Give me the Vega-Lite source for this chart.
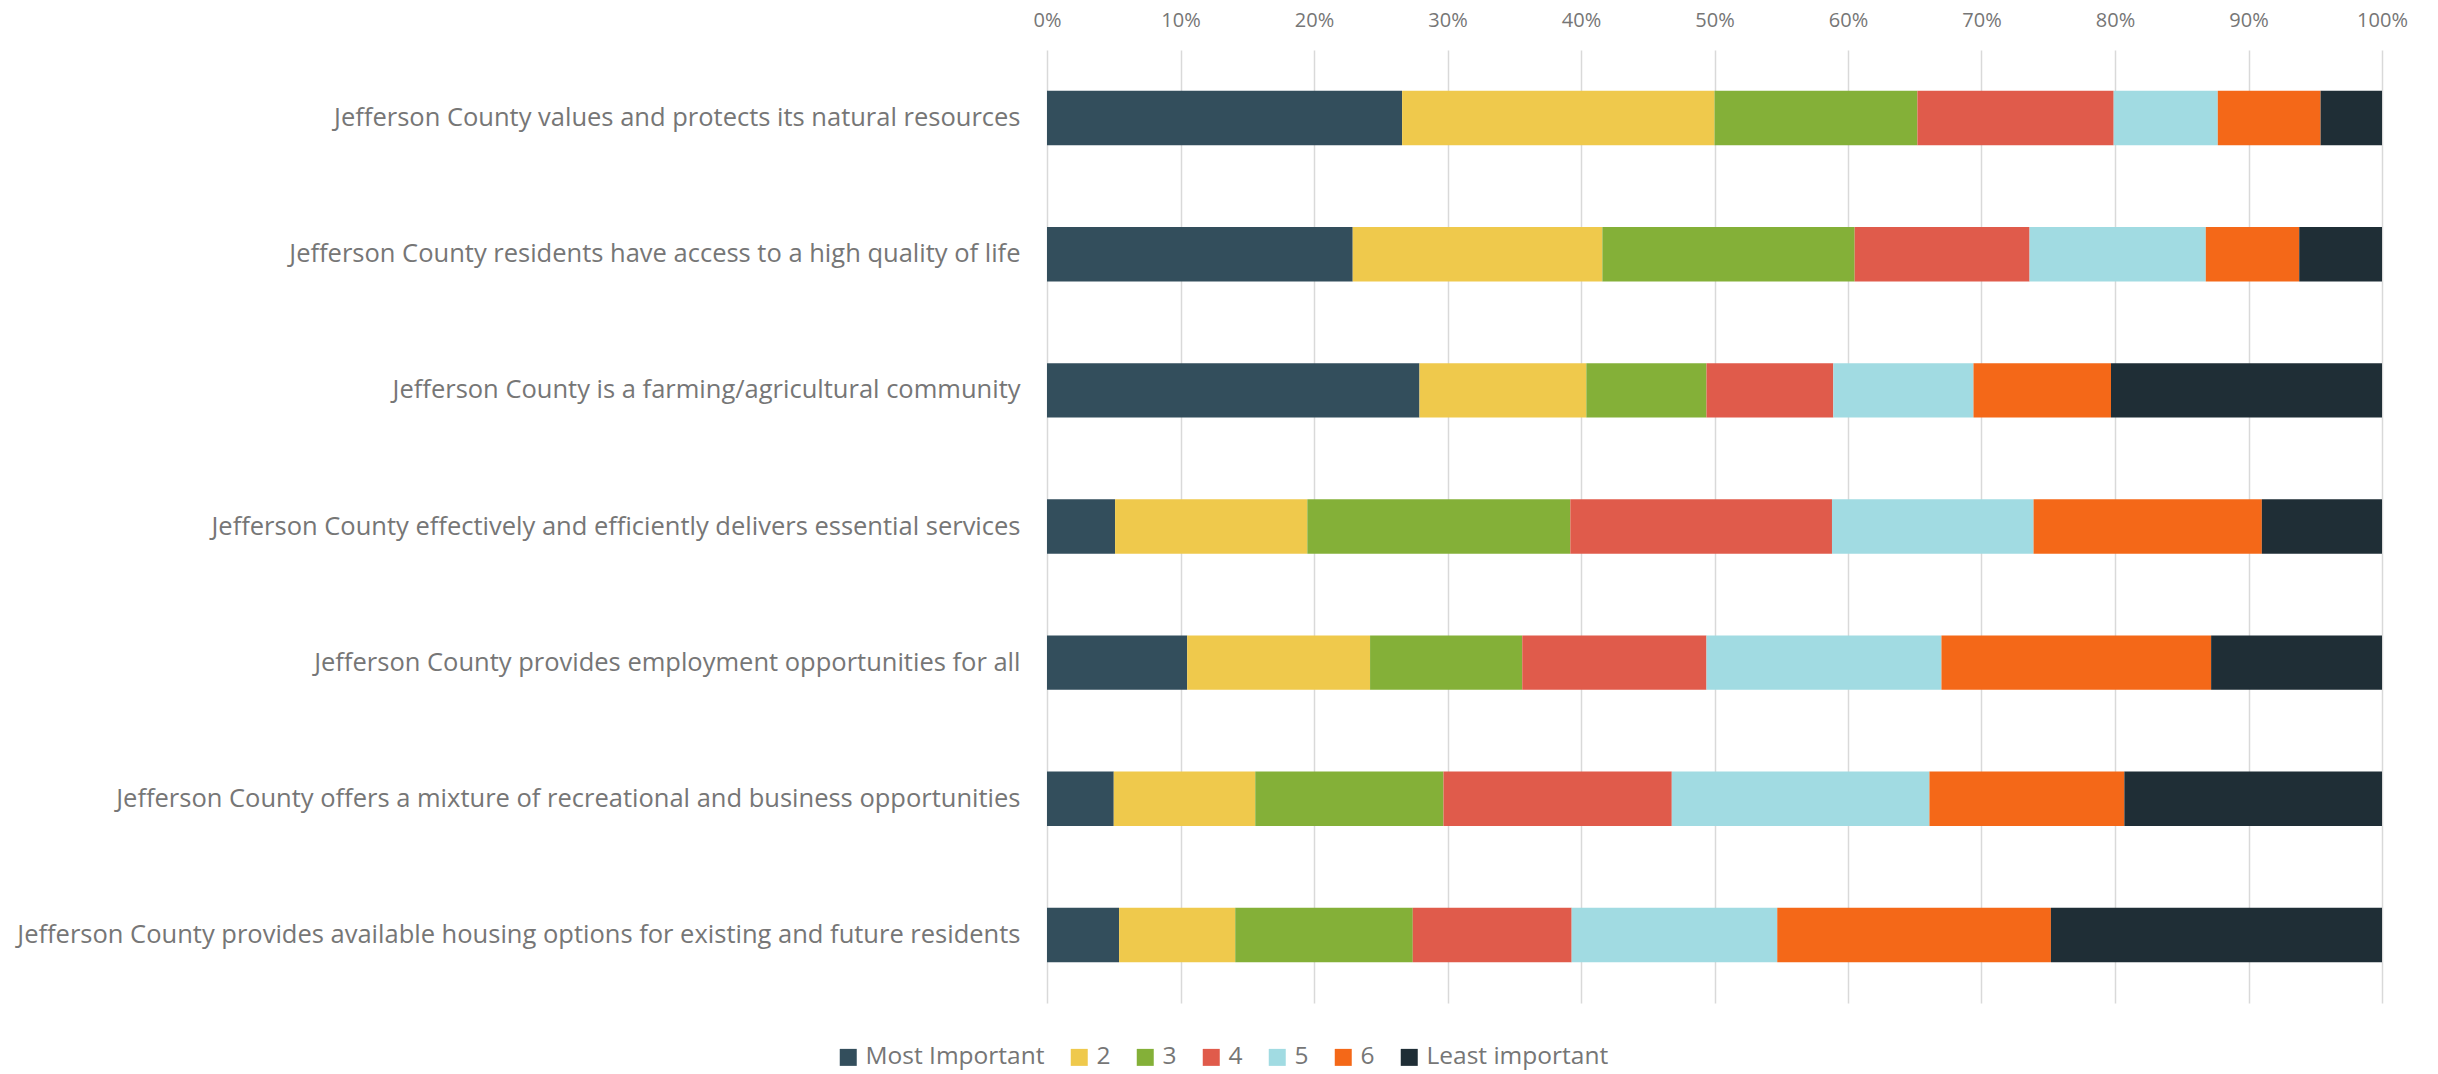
{
  "$schema": "https://vega.github.io/schema/vega-lite/v6.json",
  "width": 1335,
  "height": 953,
  "autosize": {"type": "none"},
  "padding": {"left": 1047, "top": 50, "right": 56, "bottom": 71},
  "background": "white",
  "config": {
    "font": "Open Sans",
    "view": {"stroke": null}
  },
  "data": {
    "values": [
      {"q": "Jefferson County values and protects its natural resources", "qi": 1, "rank": "Most Important", "ri": 1, "v": 26.6},
      {"q": "Jefferson County values and protects its natural resources", "qi": 1, "rank": "2", "ri": 2, "v": 23.4},
      {"q": "Jefferson County values and protects its natural resources", "qi": 1, "rank": "3", "ri": 3, "v": 15.2},
      {"q": "Jefferson County values and protects its natural resources", "qi": 1, "rank": "4", "ri": 4, "v": 14.7},
      {"q": "Jefferson County values and protects its natural resources", "qi": 1, "rank": "5", "ri": 5, "v": 7.8},
      {"q": "Jefferson County values and protects its natural resources", "qi": 1, "rank": "6", "ri": 6, "v": 7.7},
      {"q": "Jefferson County values and protects its natural resources", "qi": 1, "rank": "Least important", "ri": 7, "v": 4.6},

      {"q": "Jefferson County residents have access to a high quality of life", "qi": 2, "rank": "Most Important", "ri": 1, "v": 22.9},
      {"q": "Jefferson County residents have access to a high quality of life", "qi": 2, "rank": "2", "ri": 2, "v": 18.7},
      {"q": "Jefferson County residents have access to a high quality of life", "qi": 2, "rank": "3", "ri": 3, "v": 18.9},
      {"q": "Jefferson County residents have access to a high quality of life", "qi": 2, "rank": "4", "ri": 4, "v": 13.1},
      {"q": "Jefferson County residents have access to a high quality of life", "qi": 2, "rank": "5", "ri": 5, "v": 13.2},
      {"q": "Jefferson County residents have access to a high quality of life", "qi": 2, "rank": "6", "ri": 6, "v": 7.0},
      {"q": "Jefferson County residents have access to a high quality of life", "qi": 2, "rank": "Least important", "ri": 7, "v": 6.2},

      {"q": "Jefferson County is a farming/agricultural community", "qi": 3, "rank": "Most Important", "ri": 1, "v": 27.9},
      {"q": "Jefferson County is a farming/agricultural community", "qi": 3, "rank": "2", "ri": 2, "v": 12.5},
      {"q": "Jefferson County is a farming/agricultural community", "qi": 3, "rank": "3", "ri": 3, "v": 9.0},
      {"q": "Jefferson County is a farming/agricultural community", "qi": 3, "rank": "4", "ri": 4, "v": 9.5},
      {"q": "Jefferson County is a farming/agricultural community", "qi": 3, "rank": "5", "ri": 5, "v": 10.5},
      {"q": "Jefferson County is a farming/agricultural community", "qi": 3, "rank": "6", "ri": 6, "v": 10.3},
      {"q": "Jefferson County is a farming/agricultural community", "qi": 3, "rank": "Least important", "ri": 7, "v": 20.3},

      {"q": "Jefferson County effectively and efficiently delivers essential services", "qi": 4, "rank": "Most Important", "ri": 1, "v": 5.1},
      {"q": "Jefferson County effectively and efficiently delivers essential services", "qi": 4, "rank": "2", "ri": 2, "v": 14.4},
      {"q": "Jefferson County effectively and efficiently delivers essential services", "qi": 4, "rank": "3", "ri": 3, "v": 19.7},
      {"q": "Jefferson County effectively and efficiently delivers essential services", "qi": 4, "rank": "4", "ri": 4, "v": 19.6},
      {"q": "Jefferson County effectively and efficiently delivers essential services", "qi": 4, "rank": "5", "ri": 5, "v": 15.1},
      {"q": "Jefferson County effectively and efficiently delivers essential services", "qi": 4, "rank": "6", "ri": 6, "v": 17.1},
      {"q": "Jefferson County effectively and efficiently delivers essential services", "qi": 4, "rank": "Least important", "ri": 7, "v": 9.0},

      {"q": "Jefferson County provides employment opportunities for all", "qi": 5, "rank": "Most Important", "ri": 1, "v": 10.5},
      {"q": "Jefferson County provides employment opportunities for all", "qi": 5, "rank": "2", "ri": 2, "v": 13.7},
      {"q": "Jefferson County provides employment opportunities for all", "qi": 5, "rank": "3", "ri": 3, "v": 11.4},
      {"q": "Jefferson County provides employment opportunities for all", "qi": 5, "rank": "4", "ri": 4, "v": 13.8},
      {"q": "Jefferson County provides employment opportunities for all", "qi": 5, "rank": "5", "ri": 5, "v": 17.6},
      {"q": "Jefferson County provides employment opportunities for all", "qi": 5, "rank": "6", "ri": 6, "v": 20.2},
      {"q": "Jefferson County provides employment opportunities for all", "qi": 5, "rank": "Least important", "ri": 7, "v": 12.8},

      {"q": "Jefferson County offers a mixture of recreational and business opportunities", "qi": 6, "rank": "Most Important", "ri": 1, "v": 5.0},
      {"q": "Jefferson County offers a mixture of recreational and business opportunities", "qi": 6, "rank": "2", "ri": 2, "v": 10.6},
      {"q": "Jefferson County offers a mixture of recreational and business opportunities", "qi": 6, "rank": "3", "ri": 3, "v": 14.1},
      {"q": "Jefferson County offers a mixture of recreational and business opportunities", "qi": 6, "rank": "4", "ri": 4, "v": 17.1},
      {"q": "Jefferson County offers a mixture of recreational and business opportunities", "qi": 6, "rank": "5", "ri": 5, "v": 19.3},
      {"q": "Jefferson County offers a mixture of recreational and business opportunities", "qi": 6, "rank": "6", "ri": 6, "v": 14.6},
      {"q": "Jefferson County offers a mixture of recreational and business opportunities", "qi": 6, "rank": "Least important", "ri": 7, "v": 19.3},

      {"q": "Jefferson County provides available housing options for existing and future residents", "qi": 7, "rank": "Most Important", "ri": 1, "v": 5.4},
      {"q": "Jefferson County provides available housing options for existing and future residents", "qi": 7, "rank": "2", "ri": 2, "v": 8.7},
      {"q": "Jefferson County provides available housing options for existing and future residents", "qi": 7, "rank": "3", "ri": 3, "v": 13.3},
      {"q": "Jefferson County provides available housing options for existing and future residents", "qi": 7, "rank": "4", "ri": 4, "v": 11.9},
      {"q": "Jefferson County provides available housing options for existing and future residents", "qi": 7, "rank": "5", "ri": 5, "v": 15.4},
      {"q": "Jefferson County provides available housing options for existing and future residents", "qi": 7, "rank": "6", "ri": 6, "v": 20.5},
      {"q": "Jefferson County provides available housing options for existing and future residents", "qi": 7, "rank": "Least important", "ri": 7, "v": 24.8}
    ]
  },
  "mark": {"type": "bar"},
  "encoding": {
    "y": {
      "field": "q",
      "type": "nominal",
      "sort": {"field": "qi", "order": "ascending"},
      "scale": {"paddingInner": 0.6, "paddingOuter": 0.3},
      "axis": {
        "title": null,
        "domain": false,
        "ticks": false,
        "labelPadding": 27,
        "labelFontSize": 25.5,
        "labelColor": "#767676",
        "labelLimit": 0
      }
    },
    "x": {
      "field": "v",
      "type": "quantitative",
      "stack": "normalize",
      "scale": {"domain": [0, 1], "nice": false},
      "axis": {
        "orient": "top",
        "title": null,
        "format": ".0%",
        "values": [0, 0.1, 0.2, 0.3, 0.4, 0.5, 0.6, 0.7, 0.8, 0.9, 1],
        "domain": false,
        "ticks": false,
        "grid": true,
        "gridColor": "#d9d9d9",
        "gridWidth": 1.5,
        "labelFontSize": 20,
        "labelColor": "#767676",
        "labelPadding": 20,
        "labelFlush": false
      }
    },
    "order": {"field": "ri", "type": "quantitative"},
    "color": {
      "field": "rank",
      "type": "nominal",
      "scale": {
        "domain": ["Most Important", "2", "3", "4", "5", "6", "Least important"],
        "range": ["#334E5C", "#EFC94C", "#84B038", "#E05B4B", "#A1DBE2", "#F46818", "#1F2E36"]
      },
      "legend": {
        "title": null,
        "orient": "none",
        "direction": "horizontal",
        "legendX": -211,
        "legendY": 995,
        "symbolType": "square",
        "symbolSize": 289,
        "symbolStrokeWidth": 0,
        "labelFontSize": 24.5,
        "labelColor": "#767676",
        "labelOffset": 5,
        "labelLimit": 0,
        "columnPadding": 22
      }
    }
  }
}
